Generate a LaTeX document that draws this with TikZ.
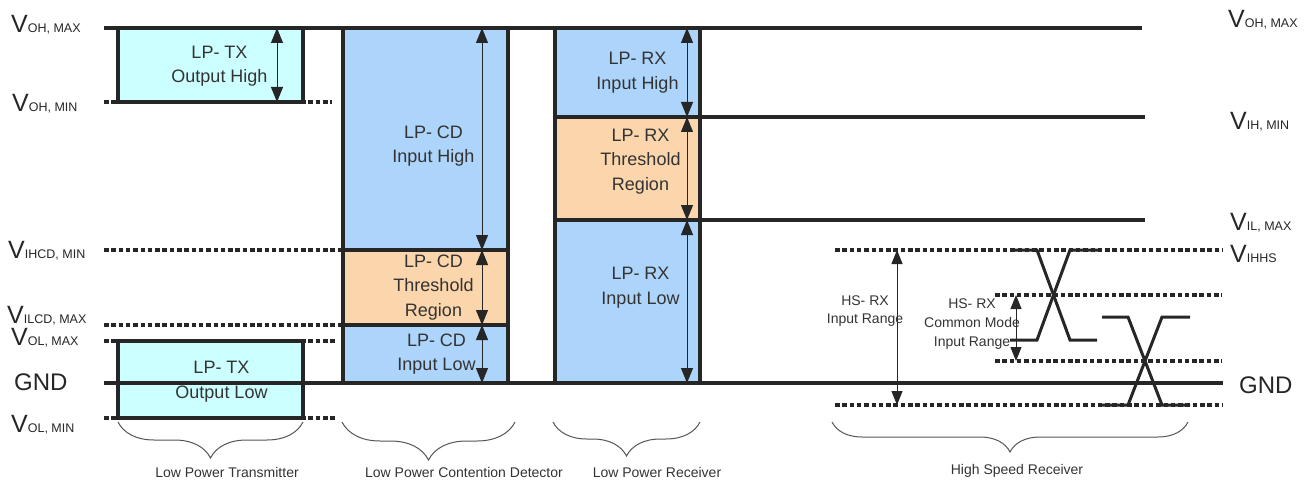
\documentclass[tikz,border=0pt]{standalone}
\usepackage{fontspec}
\setmainfont{Liberation Sans}
\setsansfont{Liberation Sans}
\usepackage{xcolor}
\usepackage{tikz}
\usetikzlibrary{arrows.meta,positioning,decorations.pathreplacing}
\definecolor{ink}{HTML}{262626}
\definecolor{txt}{HTML}{333333}
\definecolor{cyanbx}{HTML}{CCFFFF}
\definecolor{bluebx}{HTML}{ADD4FA}
\definecolor{orngbx}{HTML}{FBD5AB}
\definecolor{brcln}{HTML}{555555}
\newcommand{\vlev}[1]{{\fontsize{25}{25}\selectfont V}{\fontsize{12.5}{12.5}\selectfont #1}}
\newcommand{\boxfont}{\fontsize{18}{24.5}\selectfont}
\tikzset{
  every node/.style={font=\sffamily,text=txt},
  box/.style={draw=ink,line width=3.2pt,inner sep=0pt,outer sep=0pt,anchor=north west},
  txbox/.style={box,fill=cyanbx},
  inbox/.style={box,fill=bluebx},
  thr/.style={box,fill=orngbx},
  boxtxt/.style={font=\sffamily\boxfont,align=center,inner sep=0pt},
  lvl/.style={draw=ink,line width=3.6pt},
  dots/.style={draw=ink,line width=3.2pt,dash pattern=on 4.5pt off 2.8pt},
  dim/.style={<->,>={Triangle[length=15pt,width=12pt]},draw=ink,line width=1pt},
  wave/.style={draw=ink,line width=3pt},
  brc/.style={draw=brcln,line width=1pt,decorate,decoration={brace,mirror,amplitude=#1}},
  vlab/.style={anchor=base west,inner sep=0pt,text=ink},
  grplab/.style={font=\sffamily\fontsize{14}{14}\selectfont,inner sep=0pt},
  hslab/.style={font=\sffamily\fontsize{14}{18}\selectfont,align=center,inner sep=0pt},
}
\begin{document}
\begin{tikzpicture}[x=1pt,y=-1pt]
\useasboundingbox (0,0) rectangle (1313,481);

% dotted levels
\draw[dots] (104,102) -- (332,102);
\draw[dots] (104,250) -- (343,250);
\draw[dots] (104,325) -- (343,325);
\draw[dots] (104,341) -- (337,341);
\draw[dots] (104,418) -- (337,418);
\draw[dots] (835,250) -- (1222,250);
\draw[dots] (995,295) -- (1222,295);
\draw[dots] (995,361) -- (1222,361);
\draw[dots] (835,405) -- (1222,405);

% LP-TX
\node[txbox,minimum width=185pt,minimum height=74pt] (txh) at (118,28) {};
\node[txbox,minimum width=185pt,minimum height=77pt] (txl) at (118,341) {};

% LP-CD
\node[inbox,minimum width=165pt,minimum height=222pt] (cdh) at (343,28) {};
\node[thr,minimum width=165pt,minimum height=75pt] (cdt) at (343,250) {};
\node[inbox,minimum width=165pt,minimum height=58pt] (cdl) at (343,325) {};

% LP-RX
\node[inbox,minimum width=145pt,minimum height=89pt] (rxh) at (555,28) {};
\node[thr,minimum width=145pt,minimum height=103pt] (rxt) at (555,117) {};
\node[inbox,minimum width=145pt,minimum height=163pt] (rxl) at (555,220) {};

% solid levels
\draw[lvl] (104,28) -- (1142,28);
\draw[lvl] (555,117) -- (1145,117);
\draw[lvl] (555,220) -- (1145,220);
\draw[lvl] (104,383) -- (1223,383);

% box texts
\node[boxtxt] (txhT) at ([xshift=9pt,yshift=-1pt]txh.center) {LP- TX\\Output High};
\node[boxtxt] (txlT) at ([xshift=11pt,yshift=-2pt]txl.center) {LP- TX\\Output Low};
\node[boxtxt] (cdhT) at ([xshift=8pt,yshift=-7pt]cdh.center) {LP- CD\\Input High};
\node[boxtxt] (cdtT) at ([xshift=8pt]cdt.center) {LP- CD\\Threshold\\Region};
\node[boxtxt] (cdlT) at ([xshift=11pt]cdl.center) {LP- CD\\Input Low};
\node[boxtxt] (rxhT) at ([xshift=10pt]rxh.center) {LP- RX\\Input High};
\node[boxtxt] (rxtT) at ([xshift=13pt,yshift=7pt]rxt.center) {LP- RX\\Threshold\\Region};
\node[boxtxt] (rxlT) at ([xshift=13pt,yshift=14pt]rxl.center) {LP- RX\\Input Low};

% ranges
\draw[dim] ([xshift=-26pt]txh.north east) -- ([xshift=-26pt]txh.south east);
\draw[dim] ([xshift=-26pt]cdh.north east) -- ([xshift=-26pt]cdh.south east);
\draw[dim] ([xshift=-26pt]cdt.north east) -- ([xshift=-26pt]cdt.south east);
\draw[dim] ([xshift=-26pt]cdl.north east) -- ([xshift=-26pt]cdl.south east);
\draw[dim] ([xshift=-13pt]rxh.north east) -- ([xshift=-13pt]rxh.south east);
\draw[dim] ([xshift=-13pt]rxt.north east) -- ([xshift=-13pt]rxt.south east);
\draw[dim] ([xshift=-13pt]rxl.north east) -- ([xshift=-13pt]rxl.south east);

% HS receiver
\coordinate (rngtop) at (897,250);
\coordinate (rngbot) at (897,405);
\coordinate (cmtop) at (1016,295);
\coordinate (cmbot) at (1016,361);
\draw[dim,>={Triangle[length=14pt,width=11pt]}] (rngtop) -- (rngbot);
\draw[dim,>={Triangle[length=14pt,width=11pt]}] (cmtop) -- (cmbot);
\node[hslab] (rnglab) at (865,311) {HS- RX\\Input Range};
\node[hslab,font=\sffamily\fontsize{14}{19}\selectfont] (cmlab) at (972,324) {HS- RX\\Common Mode\\Input Range};
\draw[wave] (1010,250) -- (1037,250) -- (1070,340) -- (1097,340);
\draw[wave] (1010,340) -- (1037,340) -- (1070,250) -- (1100,250);
\draw[wave] (1102,317) -- (1128,317) -- (1162,405) -- (1190,405);
\draw[wave] (1100,405) -- (1128,405) -- (1162,317) -- (1190,317);

% level labels
\node[vlab] (lohmax) at (11,33) {\vlev{OH, MAX}};
\node[vlab] (lohmin) at (12,112) {\vlev{OH, MIN}};
\node[vlab] (lihcd) at (8,258) {\vlev{IHCD, MIN}};
\node[vlab] (lilcd) at (7,323) {\vlev{ILCD, MAX}};
\node[vlab] (lolmax) at (11,345) {\vlev{OL, MAX}};
\node[vlab,font=\sffamily\fontsize{24}{24}\selectfont] (lgnd) at (14,390) {GND};
\node[vlab] (lolmin) at (11,432) {\vlev{OL, MIN}};
\node[vlab] (rohmax) at (1228,28) {\vlev{OH, MAX}};
\node[vlab] (rihmin) at (1230,130) {\vlev{IH, MIN}};
\node[vlab] (rilmax) at (1230,230) {\vlev{IL, MAX}};
\node[vlab] (rihhs) at (1230,262) {\vlev{IHHS}};
\node[vlab,font=\sffamily\fontsize{24}{24}\selectfont] (rgnd) at (1239,393) {GND};

% groups
\draw[brc=36] (118,422) -- (303,422);
\draw[brc=38] (342,422) -- (515,422);
\draw[brc=34] (553,422) -- (700,422);
\draw[brc=30] (832,422) -- (1188,422);
\node[grplab] (gtx) at (227,472) {Low Power Transmitter};
\node[grplab] (gcd) at (464,472) {Low Power Contention Detector};
\node[grplab] (grx) at (657,472) {Low Power Receiver};
\node[grplab] (ghs) at (1017,471) {High Speed Receiver};
\end{tikzpicture}
\end{document}
